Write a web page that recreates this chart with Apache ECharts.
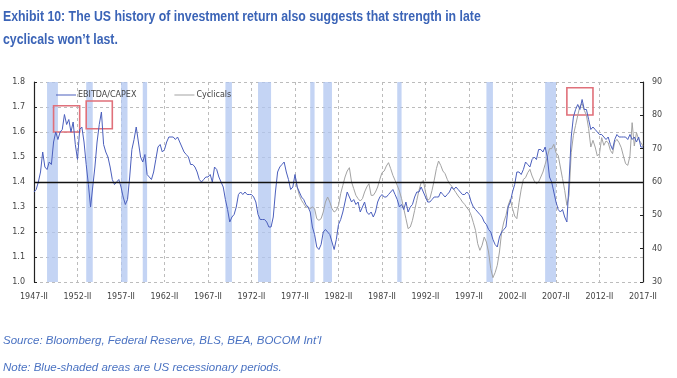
<!DOCTYPE html>
<html><head><meta charset="utf-8">
<script src="https://cdn.jsdelivr.net/npm/echarts@6/dist/echarts.min.js"></script>
<style>html,body{margin:0;padding:0;background:#fff;width:677px;height:378px;overflow:hidden}#c{width:677px;height:378px}</style>
</head><body><div id="c"></div><script>
// Quarterly categories 1947-II .. 2017-II
var romans = ['I','II','III','IV'];
var categories = [];
for (var y = 1947, q = 1; categories.length < 281; ) {
  categories.push(y + '-' + romans[q]);
  q++; if (q > 3) { q = 0; y++; }
}
var ebitdaCapex = [
1.36,1.37,1.40,1.44,1.52,1.46,1.45,1.48,1.47,1.56,
1.60,1.57,1.60,1.61,1.67,1.63,1.65,1.60,1.64,1.55,
1.49,1.61,1.62,1.56,1.47,1.39,1.30,1.38,1.46,1.56,
1.63,1.68,1.55,1.52,1.50,1.46,1.41,1.39,1.40,1.41,
1.38,1.34,1.31,1.33,1.42,1.53,1.57,1.62,1.56,1.50,
1.48,1.51,1.43,1.42,1.41,1.44,1.49,1.54,1.55,1.52,
1.53,1.56,1.58,1.58,1.58,1.57,1.58,1.56,1.54,1.52,
1.51,1.50,1.47,1.47,1.46,1.44,1.41,1.40,1.41,1.42,
1.42,1.43,1.40,1.46,1.45,1.42,1.40,1.38,1.33,1.29,
1.24,1.26,1.27,1.30,1.35,1.36,1.35,1.36,1.35,1.35,
1.35,1.34,1.32,1.27,1.25,1.25,1.25,1.24,1.22,1.22,
1.26,1.36,1.44,1.46,1.47,1.48,1.44,1.41,1.37,1.38,
1.43,1.38,1.36,1.34,1.33,1.31,1.30,1.28,1.22,1.19,
1.14,1.13,1.15,1.20,1.21,1.20,1.19,1.16,1.13,1.17,
1.23,1.25,1.28,1.32,1.36,1.34,1.32,1.33,1.31,1.32,
1.28,1.30,1.32,1.28,1.27,1.28,1.26,1.28,1.32,1.34,
1.35,1.34,1.34,1.35,1.36,1.37,1.35,1.33,1.30,1.31,
1.29,1.32,1.28,1.30,1.31,1.34,1.36,1.36,1.38,1.36,
1.34,1.32,1.32,1.33,1.34,1.34,1.34,1.36,1.35,1.34,
1.35,1.36,1.38,1.37,1.38,1.37,1.36,1.35,1.35,1.36,
1.35,1.32,1.30,1.29,1.28,1.27,1.26,1.24,1.23,1.21,
1.20,1.17,1.15,1.14,1.18,1.20,1.21,1.22,1.30,1.32,
1.36,1.39,1.44,1.44,1.43,1.45,1.48,1.47,1.46,1.49,
1.50,1.49,1.53,1.53,1.52,1.54,1.50,1.42,1.40,1.36,
1.32,1.29,1.28,1.29,1.26,1.24,1.40,1.58,1.66,1.69,
1.71,1.69,1.73,1.69,1.69,1.65,1.61,1.62,1.61,1.60,
1.59,1.59,1.58,1.57,1.58,1.55,1.53,1.57,1.59,1.58,
1.58,1.58,1.58,1.57,1.59,1.57,1.58,1.56,1.58,1.54,
1.54];
var cyclicalsStart = '1977-II';
var cyclicals = [
62,58.5,56,54.5,53.5,52.5,52.5,52,52.5,52,
49,48.5,49,51,54,55.5,54,52,51,51.5,
53,56.5,59,61.5,63.3,64.3,60,58,56,55,
54.3,55,57,58.5,59.5,56,56,57,58.5,60.8,
62.8,63.3,64.8,65.8,64,62,60.5,59,57.3,55,
52,49,46,46.5,48.5,51.5,54.5,57.5,59.8,60.5,
57,54.5,55,57.5,60.5,64,66.3,65,63.3,62.5,
60.8,59.5,58.8,57.8,56.8,55.8,55,54,53.3,52.3,
51.5,50,47.8,45.5,41.5,39.5,41,43.5,42,39,
34,31.3,32.8,35,39,45,48,50,53,54.8,
52,49.8,49,53.8,57.8,60.8,61.3,62.8,63.8,61.8,
60.3,59.5,60,61.5,63,65.3,67.5,70,70,71.3,
68.8,68,64.5,61,57.5,53,56,68.8,74,77,
80,82.8,83.5,81.5,80,76,70.5,72.5,70.5,67.8,
68.5,73.3,71,72.3,71.8,69.5,68.5,72,72.8,71.8,
70.3,67.8,65.5,65,67.8,77.8,70.8,74.8,72.8,71.8,
70.8];
var recessions = [
['1948-IV','1950-I'],['1953-II','1954-I'],['1957-II','1958-I'],['1959-IV','1960-II'],
['1969-II','1970-I'],['1973-I','1974-III'],['1979-I','1979-III'],['1980-III','1981-III'],
['1989-I','1989-III'],['1999-II','2000-I'],['2006-I','2007-II']
];
var highlightBoxes = [
['1949-III','1952-III',1.60,1.705],
['1953-II','1956-II',1.613,1.724],
['2008-III','2011-III',1.668,1.777]
];
var titleLines = ['Exhibit 10: The US history of investment return also suggests that strength in late', 'cyclicals won\u2019t last.'];
var footLines = ['Source: Bloomberg, Federal Reserve, BLS, BEA, BOCOM Int\u2019l', 'Note: Blue-shaded areas are US recessionary periods.'];
var leftTicks = {min:1.0, max:1.8, step:0.1};
var rightTicks = {min:30, max:90, step:10};

var startIdx = categories.indexOf(cyclicalsStart);
var cycData = categories.map(function(c, i){ var k = i - startIdx; return k >= 0 && k < cyclicals.length ? cyclicals[k] : null; });

var chart = echarts.init(document.getElementById('c'));
var axisFont = {fontFamily:'DejaVu Sans', fontSize:8, color:'#444'};
var titleStyle = {font:'bold 15px "Liberation Sans"', fill:'#3b64b7'};
chart.setOption({
  animation:false,
  backgroundColor:'#fff',
  graphic:[
    {type:'text', x:3, y:9, scaleX:0.82, style:Object.assign({text:titleLines[0]}, titleStyle)},
    {type:'text', x:3, y:32, scaleX:0.82, style:Object.assign({text:titleLines[1]}, titleStyle)},
    {type:'text', left:3, top:335, style:{text:footLines[0], font:'italic 11.5px "Liberation Sans"', fill:'#4a72c2'}},
    {type:'text', left:3, top:362, style:{text:footLines[1], font:'italic 11.5px "Liberation Sans"', fill:'#4a72c2'}}
  ],
  legend:{
    data:['EBITDA/CAPEX','Cyclicals'],
    left:51, top:86, itemGap:38, itemWidth:20, itemHeight:1,
    icon:'rect',
    textStyle:{fontFamily:'DejaVu Sans', fontSize:8, color:'#444', padding:[0,0,0,-3]}
  },
  grid:{left:34, right:34, top:82, bottom:96},
  xAxis:{
    type:'category', data:categories, boundaryGap:false,
    axisLine:{show:false}, axisTick:{show:false},
    axisLabel:Object.assign({interval:19, margin:11}, axisFont),
    splitLine:{show:true, interval:19, lineStyle:{type:[3,3], color:'#bcbcbc', width:1}}
  },
  yAxis:[
    {type:'value', min:leftTicks.min, max:leftTicks.max, interval:leftTicks.step, position:'left',
     axisLine:{show:true, lineStyle:{color:'#222', width:1.2}},
     axisTick:{show:true, inside:true, length:3, lineStyle:{color:'#222'}},
     axisLabel:Object.assign({margin:9, formatter:function(v){return v.toFixed(1);}}, axisFont),
     splitLine:{show:true, lineStyle:{type:[3,3], color:'#bcbcbc', width:1}}},
    {type:'value', min:rightTicks.min, max:rightTicks.max, interval:rightTicks.step, position:'right',
     axisLine:{show:true, lineStyle:{color:'#222', width:1.2}},
     axisTick:{show:true, inside:true, length:3, lineStyle:{color:'#222'}},
     axisLabel:Object.assign({margin:9}, axisFont),
     splitLine:{show:false}}
  ],
  series:[
    {name:'recessions', type:'line', data:[], z:1, silent:true,
     markArea:{silent:true, itemStyle:{color:'rgba(176,198,240,0.75)'},
       data:recessions.map(function(r){return [{xAxis:r[0]},{xAxis:r[1]}];})}},
    {name:'Cyclicals', type:'line', yAxisIndex:1, data:cycData, symbol:'none', z:3,
     lineStyle:{color:'#a3a3a3', width:1}, itemStyle:{color:'#a3a3a3'}},
    {name:'EBITDA/CAPEX', type:'line', yAxisIndex:0, data:ebitdaCapex, symbol:'none', z:4,
     lineStyle:{color:'#4b5fbd', width:1}, itemStyle:{color:'#4b5fbd'},
     markLine:{silent:true, symbol:'none', label:{show:false}, lineStyle:{color:'#111', type:'solid', width:1.3},
       data:[{yAxis:1.4}]},
     markArea:{silent:true, itemStyle:{color:'rgba(0,0,0,0)', borderColor:'#e0707a', borderWidth:1.6},
       data:highlightBoxes.map(function(b){return [{xAxis:b[0], yAxis:b[2]},{xAxis:b[1], yAxis:b[3]}];})}}
  ]
});
</script></body></html>
